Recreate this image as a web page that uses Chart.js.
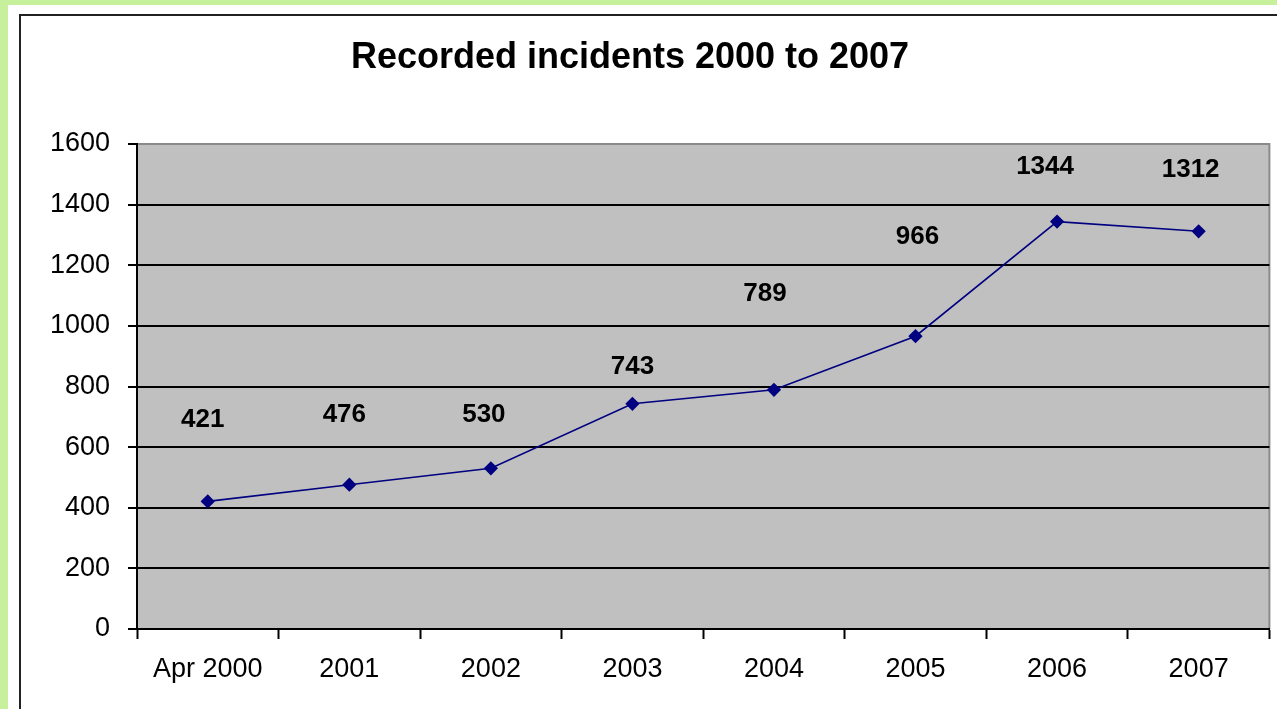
<!DOCTYPE html>
<html>
<head>
<meta charset="utf-8">
<style>
  html, body { margin: 0; padding: 0; background: #c6f09b; }
  #wrap { width: 1277px; height: 709px; }
</style>
</head>
<body>
<div id="wrap">
  <canvas id="myChart" width="1277" height="709"></canvas>
</div>
<script src="https://cdn.jsdelivr.net/npm/chart.js"></script>
<script>
  const chartTitle = "Recorded incidents 2000 to 2007";
  const years = ["Apr 2000", "2001", "2002", "2003", "2004", "2005", "2006", "2007"];
  const incidents = [421, 476, 530, 743, 789, 966, 1344, 1312];
  const yTicks = [0, 200, 400, 600, 800, 1000, 1200, 1400, 1600];

  // labels were hand-placed in the original, so each gets its own nudge (px)
  const labelNudge = [[-5, 82], [-5, 70], [-7, 54], [0, 37], [-9, 96], [2, 99], [-12, 55], [-8, 61]];

  const FONT = "'Liberation Sans', Arial, sans-serif";

  const frame = {
    id: "frame",
    beforeDraw(chart) {
      const { ctx, chartArea: a } = chart;
      ctx.save();
      ctx.fillStyle = "#c6f09b";
      ctx.fillRect(0, 0, chart.width, chart.height);
      ctx.fillStyle = "#ffffff";
      ctx.fillRect(8, 5, chart.width, chart.height);
      ctx.strokeStyle = "#222";
      ctx.lineWidth = 2;
      ctx.strokeRect(20, 15, chart.width + 40, chart.height + 40);
      ctx.fillStyle = "#c0c0c0";
      ctx.fillRect(a.left, a.top, a.right - a.left, a.bottom - a.top);
      ctx.strokeStyle = "#8a8a8a";
      ctx.lineWidth = 2;
      ctx.beginPath();
      ctx.moveTo(a.left, a.top);
      ctx.lineTo(a.right, a.top);
      ctx.lineTo(a.right, a.bottom);
      ctx.stroke();

      // title
      ctx.font = "bold 36px " + FONT;
      ctx.fillStyle = "#000";
      ctx.textAlign = "center";
      ctx.textBaseline = "middle";
      ctx.fillText(chartTitle, 630, 58);
      ctx.restore();
    },
  };

  const pointLabels = {
    id: "pointLabels",
    afterDatasetsDraw(chart) {
      const { ctx } = chart;
      const meta = chart.getDatasetMeta(0);
      ctx.save();
      ctx.font = "bold 26px " + FONT;
      ctx.fillStyle = "#000";
      ctx.textAlign = "center";
      ctx.textBaseline = "middle";
      meta.data.forEach((pt, i) => {
        const [dx, dy] = labelNudge[i];
        ctx.fillText(String(incidents[i]), pt.x + dx, pt.y - dy);
      });
      ctx.restore();
    },
  };

  new Chart(document.getElementById("myChart"), {
    type: "line",
    data: {
      labels: years,
      datasets: [
        {
          label: "Recorded incidents",
          data: incidents,
          borderColor: "#000080",
          backgroundColor: "#000080",
          borderWidth: 1.6,
          pointStyle: "rectRot",
          pointRadius: 6,
          pointHoverRadius: 6,
          tension: 0,
        },
      ],
    },
    options: {
      responsive: false,
      animation: false,
      layout: { padding: { left: 0, right: 3, top: 144, bottom: 0 } },
      plugins: {
        legend: { display: false },
        tooltip: { enabled: false },
        title: { display: false },
      },
      scales: {
        x: {
          offset: true,
          afterFit: (s) => { s.height = 80; },
          grid: {
            offset: true,
            drawOnChartArea: false,
            drawTicks: true,
            tickLength: 10,
            tickColor: "#000",
            tickWidth: 2,
          },
          border: { color: "#000", width: 2 },
          ticks: {
            color: "#000",
            padding: 14,
            maxRotation: 0,
            autoSkip: false,
            font: { family: FONT, size: 27 },
          },
        },
        y: {
          min: 0,
          max: 1600,
          afterFit: (s) => { s.width = 137; },
          afterBuildTicks: (s) => { s.ticks = yTicks.map((v) => ({ value: v })); },
          grid: {
            color: (c) => (c.tick && c.tick.value === 1600 ? "#8a8a8a" : "#000"),
            lineWidth: 2,
            tickLength: 9,
            tickColor: "#000",
            tickWidth: 2,
          },
          border: { color: "#000", width: 2 },
          ticks: {
            color: "#000",
            padding: 18,
            callback: (v) => String(v),
            font: { family: FONT, size: 27 },
          },
        },
      },
    },
    plugins: [frame, pointLabels],
  });
</script>
</body>
</html>
